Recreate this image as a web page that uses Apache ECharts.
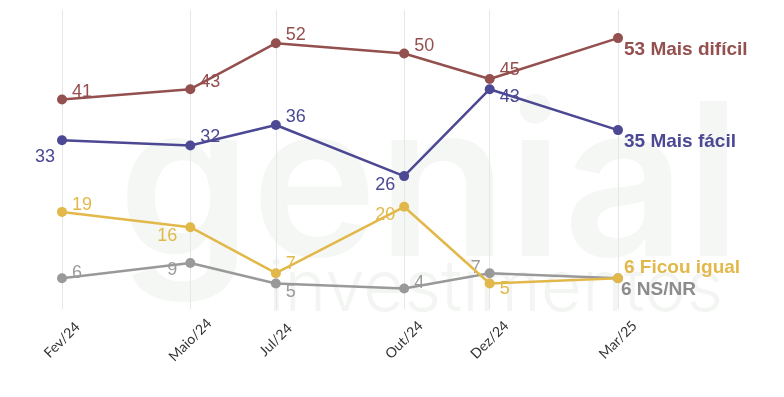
<!DOCTYPE html>
<html>
<head>
<meta charset="utf-8">
<script src="https://cdn.jsdelivr.net/npm/echarts@6/dist/echarts.min.js"></script>
<style>html,body{margin:0;padding:0;background:#fff}#c{width:784px;height:397px}</style>
</head>
<body>
<div id="c"></div>
<script>
// ---- data ----
const allMonths = ['Fev/24','Mar/24','Abr/24','Maio/24','Jun/24','Jul/24','Ago/24','Set/24','Out/24','Nov/24','Dez/24','Jan/25','Fev/25','Mar/25'];
const surveyMonths = ['Fev/24','Maio/24','Jul/24','Out/24','Dez/24','Mar/25'];
const seriesNames = ['Mais difícil','Mais fácil','Ficou igual','NS/NR'];
const maisDificil = [41, 43, 52, 50, 45, 53];
const maisFacil   = [33, 32, 36, 26, 43, 35];
const ficouIgual  = [19, 16, 7, 20, 5, 6];
const nsnr        = [6, 9, 5, 4, 7, 6];

// ---- styling (label placement per point) ----
const colors = ['#94504e', '#4c4893', '#e2b84a', '#999999'];
const labelColors = ['#94504e', '#4c4893', '#e2b84a', '#9a9a9a'];
const endLabelColors = ['#94504e', '#4c4893', '#e2b84a', '#8c8c8c'];
const placements = [
  [['right',[0,-7]],['right',[0,-7]],['right',[0,-8]],['right',[0,-7]],['right',[0,-9]],['right',[-4,12]]],
  [['left',[3,17]],['right',[0,-8]],['right',[0,-8]],['left',[1,9]],['right',[0,8]],['right',[-4,12]]],
  [['right',[0,-7]],['left',[-3,9]],['right',[0,-9]],['left',[1,8]],['right',[0,6]],['right',[-4,-11]]],
  [['right',[0,-5]],['left',[-3,7]],['right',[0,9]],['right',[0,-6]],['left',[1,-5]],['right',[-7,11]]]
];
const valuesList = [maisDificil, maisFacil, ficouIgual, nsnr];

const series = valuesList.map((vals, s) => ({
  name: seriesNames[s],
  type: 'line',
  z: 10 - s,
  symbol: 'circle',
  symbolSize: 10,
  lineStyle: { width: 2.5, color: colors[s] },
  itemStyle: { color: colors[s] },
  data: vals.map((v, i) => {
    const last = i === vals.length - 1;
    return {
      value: [surveyMonths[i], v],
      label: {
        show: true,
        position: placements[s][i][0],
        offset: placements[s][i][1],
        distance: 5,
        fontFamily: 'Liberation Sans, Arial, sans-serif',
        fontSize: last ? 19 : 18,
        fontWeight: last ? 'bold' : 'normal',
        color: last ? endLabelColors[s] : labelColors[s],
        formatter: last ? (v + ' ' + seriesNames[s]) : String(v)
      }
    };
  })
}));

const chart = echarts.init(document.getElementById('c'), null, { renderer: 'canvas' });
chart.setOption({
  animation: false,
  backgroundColor: '#ffffff',
  grid: { left: 62, right: 166, top: 10, bottom: 88 },
  graphic: [
    { type: 'text', z: 0, left: 118, top: 85,
      style: { text: 'genial', fontFamily: 'Inter, sans-serif', fontSize: 213, fontWeight: 600, fill: '#f5f7f5' } },
    { type: 'text', z: 0, left: 268, top: 254,
      style: { text: 'investimentos', fontFamily: 'Inter, sans-serif', fontSize: 71, fontWeight: 300, fill: '#f3f5f3' } }
  ],
  xAxis: {
    type: 'category',
    data: allMonths,
    boundaryGap: false,
    axisLine: { show: false },
    axisTick: { show: false },
    splitLine: {
      show: true,
      interval: (idx, val) => surveyMonths.indexOf(val) >= 0,
      lineStyle: { color: '#e6e6e6', width: 1 }
    },
    axisLabel: {
      interval: (idx, val) => surveyMonths.indexOf(val) >= 0,
      rotate: 45,
      align: 'center',
      verticalAlign: 'middle',
      margin: 31,
      fontFamily: 'Lato, sans-serif',
      fontSize: 14,
      color: '#333333'
    }
  },
  yAxis: {
    type: 'value',
    min: 0,
    max: 58.5,
    show: false,
    splitLine: { show: false }
  },
  series: series
});
</script>
</body>
</html>
